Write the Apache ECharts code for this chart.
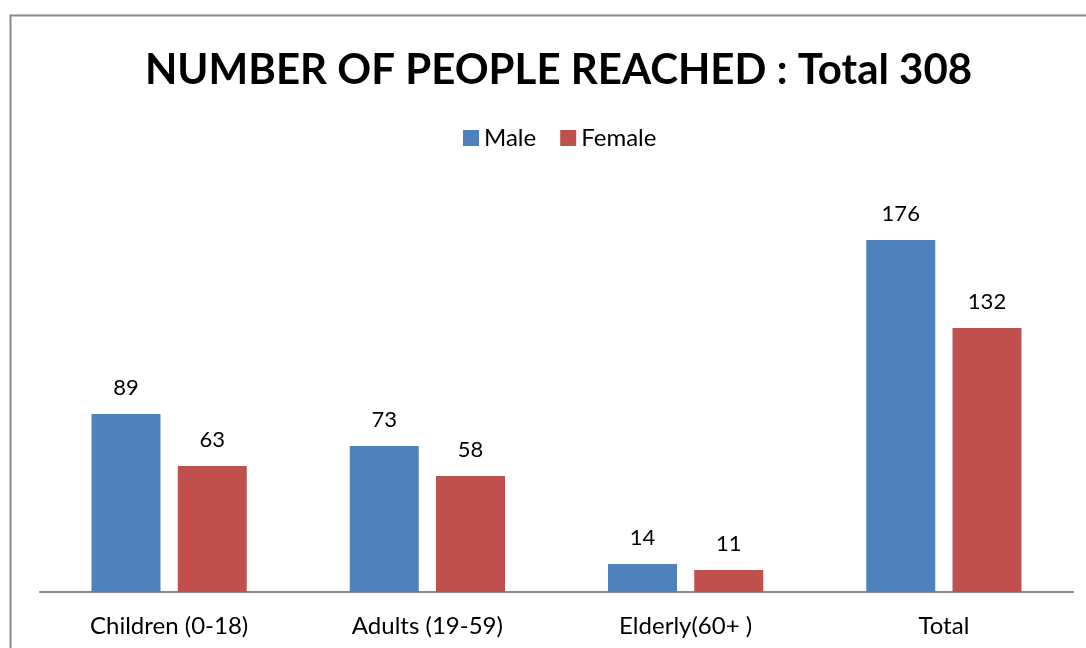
<!DOCTYPE html>
<html>
<head>
<meta charset="utf-8">
<script src="https://cdn.jsdelivr.net/npm/echarts@6/dist/echarts.min.js"></script>
<style>
  html, body { margin: 0; padding: 0; background: #fff; }
  #chart { width: 1086px; height: 648px; }
</style>
</head>
<body>
<div id="chart"></div>
<script>
const categories = ['Children (0-18)', 'Adults (19-59)', 'Elderly(60+ )', 'Total'];
const maleValues = [89, 73, 14, 176];
const femaleValues = [63, 58, 11, 132];
const titleText = 'NUMBER OF PEOPLE REACHED : Total 308';

const FONT = 'Lato, "Open Sans", sans-serif';

const chart = echarts.init(document.getElementById('chart'), null, { renderer: 'canvas' });

const labelStyle = {
  show: true,
  position: 'top',
  distance: 15,
  color: '#000',
  fontFamily: FONT,
  fontSize: 22
};

chart.setOption({
  backgroundColor: '#fff',
  animation: false,
  graphic: [{
    type: 'rect',
    shape: { x: 10.5, y: 15.5, width: 1100, height: 700 },
    style: { fill: 'none', stroke: '#888', lineWidth: 2 },
    silent: true
  }],
  title: {
    text: titleText,
    left: 140,
    top: 44,
    textStyle: { fontFamily: FONT, fontWeight: 'bold', fontSize: 42, color: '#000' }
  },
  legend: {
    top: 121,
    left: 458,
    itemWidth: 16,
    itemHeight: 16,
    itemGap: 24,
    icon: 'rect',
    textStyle: { fontFamily: FONT, fontSize: 24, color: '#000' },
    data: ['Male', 'Female']
  },
  grid: { left: 40, right: 13, top: 192, bottom: 56, containLabel: false },
  xAxis: {
    type: 'category',
    data: categories,
    axisLine: { lineStyle: { color: '#888', width: 2 } },
    axisTick: { show: false },
    axisLabel: { fontFamily: FONT, fontSize: 24, color: '#000', margin: 22 }
  },
  yAxis: {
    type: 'value',
    min: 0,
    max: 200,
    show: false,
    splitLine: { show: false }
  },
  series: [
    {
      name: 'Male',
      type: 'bar',
      data: maleValues,
      barWidth: 69,
      barGap: '25%',
      itemStyle: { color: '#4F81BD' },
      label: labelStyle
    },
    {
      name: 'Female',
      type: 'bar',
      data: femaleValues,
      barWidth: 69,
      itemStyle: { color: '#C0504D' },
      label: labelStyle
    }
  ]
});
</script>
</body>
</html>
